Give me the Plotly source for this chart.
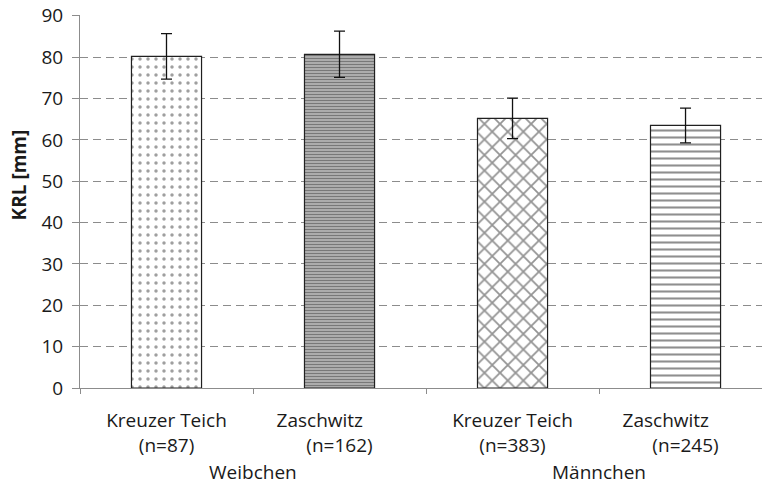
import plotly.graph_objects as go

# ---- data ----
categories = ["Kreuzer Teich", "Zaschwitz", "Kreuzer Teich", "Zaschwitz"]
sample_sizes = ["(n=87)", "(n=162)", "(n=383)", "(n=245)"]
groups = ["Weibchen", "Männchen"]
group_centers = [0.5, 2.5]
krl_mean = [80.2, 80.7, 65.2, 63.5]
krl_sd = [5.5, 5.6, 4.9, 4.2]
y_ticks = list(range(0, 100, 10))

# label shifts (Zaschwitz first line sits left of its n line)
pad = ["", "\u00a0" * 8, "", "\u00a0" * 8]
x_labels = [f"{c}{p}<br>{n}" for c, p, n in zip(categories, pad, sample_sizes)]

patterns = [
    dict(shape=".", size=8, solidity=0.15, fgcolor="#404040", bgcolor="white"),
    dict(shape="-", size=3, solidity=0.5, fgcolor="#333333", bgcolor="#bdbdbd"),
    dict(shape="x", size=11, solidity=0.3, fgcolor="#2a2a2a", bgcolor="white"),
    dict(shape="-", size=7, solidity=0.3, fgcolor="#202020", bgcolor="white"),
]

fig = go.Figure()
for i in range(len(categories)):
    fig.add_trace(go.Bar(
        x=[x_labels[i]], y=[krl_mean[i]],
        width=0.405,
        marker=dict(color="white", pattern=patterns[i],
                    line=dict(color="#202020", width=1.2)),
        error_y=dict(type="data", array=[krl_sd[i]], color="#111111",
                     thickness=1.3, width=5.5),
        showlegend=False,
    ))

FONT = "Open Sans"
fig.update_layout(
    width=762, height=485,
    margin=dict(l=80, r=0, t=15, b=97, autoexpand=False),
    plot_bgcolor="white", paper_bgcolor="white",
    barmode="overlay",
    font=dict(family=FONT, size=18, color="#1a1a1a"),
    xaxis=dict(
        type="category", categoryorder="array", categoryarray=x_labels,
        range=[-0.5, 3.442], automargin=False,
        showline=True, linecolor="#8c8c8c", linewidth=1,
        ticks="outside", tickson="boundaries", ticklen=5, tickcolor="#8c8c8c",
        ticklabelstandoff=15,
        showgrid=False, tickfont=dict(size=19, family=FONT),
    ),
    yaxis=dict(
        range=[0, 90.2], tickvals=y_ticks, automargin=False,
        showline=True, linecolor="#8c8c8c", linewidth=1,
        ticks="outside", ticklen=7, tickcolor="#8c8c8c",
        ticklabelstandoff=5, ticklabeloverflow="allow",
        showgrid=True, gridcolor="#8c8c8c", gridwidth=1, griddash="8px,5px",
        zeroline=False, tickfont=dict(size=19, family=FONT),
    ),
)

for g, xc in zip(groups, group_centers):
    fig.add_annotation(x=xc, xref="x", y=-0.226, yref="paper",
                       text=g, showarrow=False, yanchor="middle", borderpad=0,
                       font=dict(size=19, family=FONT, color="#1a1a1a"))

fig.add_annotation(x=-0.0894, xref="paper", y=0.57, yref="paper",
                   text="<b>KRL [mm]</b>", textangle=-90, showarrow=False,
                   xanchor="center", yanchor="middle",
                   font=dict(size=19, family=FONT, color="#1a1a1a"))

# remove the default 8px page margin so the figure fills the window exactly
fig.write_html("out.html", config={"displayModeBar": False},
               post_script="document.body.style.margin='0px';")
